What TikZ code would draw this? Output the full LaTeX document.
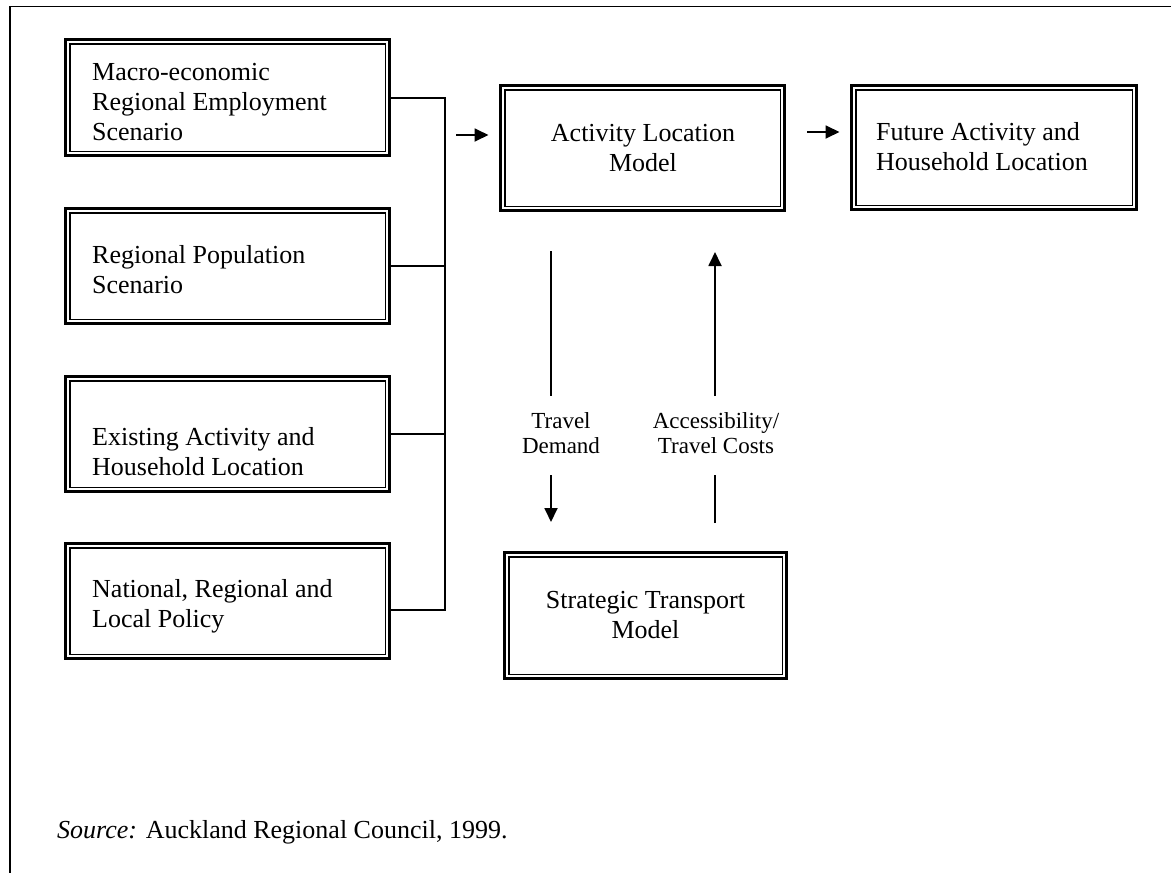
\documentclass[tikz,border=0pt]{standalone}
\usepackage{fontspec}
\setmainfont{Liberation Serif}
\usetikzlibrary{arrows.meta}
\begin{document}
\begin{tikzpicture}[x=1pt,y=-1pt,
  box/.style={draw, line width=3pt, outer sep=0pt, inner sep=0pt},
  innerline/.style={line width=1.5pt},
  conn/.style={line width=1.8pt},
  arr/.style={line width=1.8pt, -{Triangle[length=14pt,width=13pt]}},
  txt/.style={inner sep=0pt, font=\fontsize{26}{30}\selectfont},
  lbl/.style={inner sep=0pt, font=\fontsize{23}{25}\selectfont}]
\useasboundingbox (0,0) rectangle (1171,873);
% frame
\draw[line width=1.6pt] (10,873) -- (10,6.5) -- (1171,6.5);
% boxes
\node[box, minimum width=324pt, minimum height=116pt] (b1) at (227.5,97.5) {};
\node[box, minimum width=324pt, minimum height=115pt] (b2) at (227.5,266) {};
\node[box, minimum width=324pt, minimum height=115pt] (b3) at (227.5,434) {};
\node[box, minimum width=324pt, minimum height=115pt] (b4) at (227.5,601) {};
\node[box, minimum width=284pt, minimum height=125pt] (alm) at (642.5,148) {};
\node[box, minimum width=285pt, minimum height=124pt] (fut) at (994,147.5) {};
\node[box, minimum width=282pt, minimum height=126pt] (stm) at (645.5,615.5) {};
\foreach \b in {b1,b2,b3,b4,alm,fut,stm}
  \draw[innerline] ([shift={(4.25,4.25)}]\b.north west) rectangle ([shift={(-4.25,-4.25)}]\b.south east);
% texts
\node[txt, anchor=base west] (t1) at (92,80) {\begin{tabular}[t]{@{}l@{}}Macro-economic\\Regional Employment\\Scenario\end{tabular}};
\node[txt, anchor=base west] (t2) at (92,263) {\begin{tabular}[t]{@{}l@{}}Regional Population\\Scenario\end{tabular}};
\node[txt, anchor=base west] (t3) at (92,445) {\begin{tabular}[t]{@{}l@{}}Existing Activity and\\Household Location\end{tabular}};
\node[txt, anchor=base west] (t4) at (92,597) {\begin{tabular}[t]{@{}l@{}}National, Regional and\\Local Policy\end{tabular}};
\node[txt, anchor=base] (talm) at (643,141) {\begin{tabular}[t]{@{}c@{}}Activity Location\\Model\end{tabular}};
\node[txt, anchor=base west] (tfut) at (876,140) {\begin{tabular}[t]{@{}l@{}}Future Activity and\\Household Location\end{tabular}};
\node[txt, anchor=base] (tstm) at (645.5,608) {\begin{tabular}[t]{@{}c@{}}Strategic Transport\\Model\end{tabular}};
% bracket connectors
\coordinate (j1) at (445,98);
\coordinate (j4) at (445,610);
\draw[conn] (b1.east |- j1) -- (j1) -- (j4) -- (b4.east |- j4);
\draw[conn] (b2.east) -- (b2.east -| j1);
\draw[conn] (b3.east) -- (b3.east -| j1);
% horizontal arrows
\coordinate (a1) at (456,135);
\draw[arr, shorten >=12pt] (a1) -- (alm.west |- a1);
\coordinate (a2) at (807,132);
\draw[arr, shorten >=12pt] (a2) -- (fut.west |- a2);
% vertical connectors
\coordinate (td1) at (551,251);
\coordinate (td2) at (551,396);
\coordinate (td3) at (551,475);
\coordinate (td4) at (551,522);
\draw[conn] (td1) -- (td2);
\draw[arr] (td3) -- (td4);
\coordinate (ac1) at (715,396);
\coordinate (ac2) at (715,252);
\coordinate (ac3) at (715,523);
\coordinate (ac4) at (715,475);
\draw[arr] (ac1) -- (ac2);
\draw[conn] (ac3) -- (ac4);
\node[lbl, anchor=base] (ltd) at (561,428) {\begin{tabular}[t]{@{}c@{}}Travel\\Demand\end{tabular}};
\node[lbl, anchor=base] (lac) at (716,428) {\begin{tabular}[t]{@{}c@{}}Accessibility/\\Travel Costs\end{tabular}};
% source
\node[txt, anchor=base west] (src) at (57,838) {\textit{Source:} Auckland Regional Council, 1999.};
\end{tikzpicture}
\end{document}
